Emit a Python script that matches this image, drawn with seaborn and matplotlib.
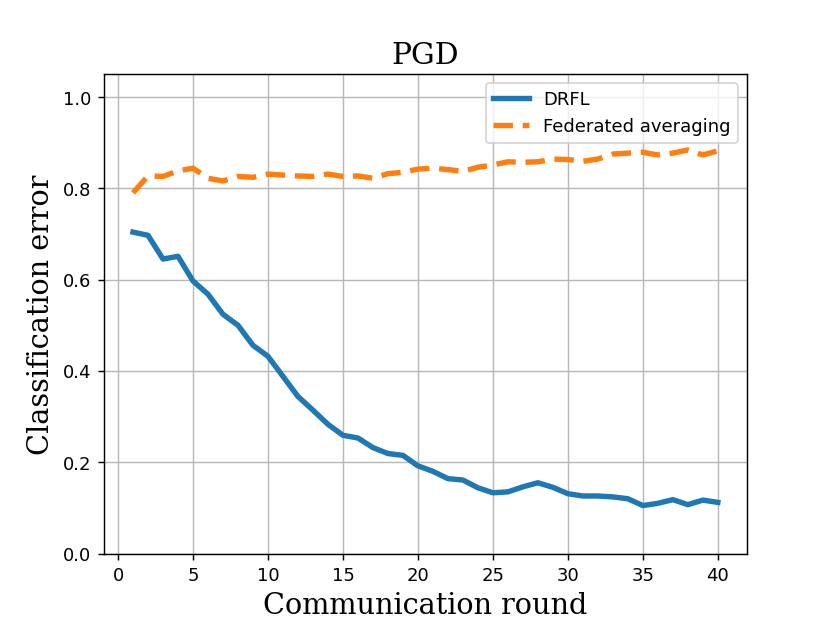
import matplotlib
matplotlib.use("Agg")
import matplotlib.pyplot as plt
import seaborn as sns
import pandas as pd
import numpy as np

rounds = list(range(1, 41))
drfl = [0.704, 0.697, 0.645, 0.651, 0.597, 0.568, 0.524, 0.500, 0.456, 0.432,
        0.388, 0.344, 0.314, 0.283, 0.259, 0.253, 0.232, 0.219, 0.215, 0.192,
        0.180, 0.164, 0.161, 0.144, 0.133, 0.135, 0.146, 0.155, 0.145, 0.131,
        0.126, 0.126, 0.124, 0.120, 0.105, 0.110, 0.118, 0.107, 0.117, 0.112]
fedavg = [0.790, 0.827, 0.826, 0.838, 0.844, 0.822, 0.816, 0.826, 0.824, 0.831,
          0.829, 0.827, 0.826, 0.831, 0.826, 0.827, 0.822, 0.832, 0.835, 0.842,
          0.844, 0.841, 0.837, 0.846, 0.851, 0.858, 0.857, 0.858, 0.864, 0.863,
          0.859, 0.864, 0.875, 0.877, 0.879, 0.873, 0.877, 0.884, 0.873, 0.882]
series_names = ["DRFL", "Federated averaging"]

df = pd.DataFrame({
    "round": rounds * 2,
    "error": drfl + fedavg,
    "method": [series_names[0]] * len(rounds) + [series_names[1]] * len(rounds),
})

fig, ax = plt.subplots(figsize=(6.4, 4.8), dpi=129.7)
sns.lineplot(data=df, x="round", y="error", hue="method", style="method",
             palette=["#1f77b4", "#ff7f0e"], dashes=[(None, None), (3.6, 1.8)],
             linewidth=3, ax=ax)
ax.set_ylim(0, 1.05)
ax.set_yticks([0.0, 0.2, 0.4, 0.6, 0.8, 1.0])
ax.set_xticks([0, 5, 10, 15, 20, 25, 30, 35, 40])
ax.grid(True, color="#b8b8b8", linewidth=0.8)
ax.set_axisbelow(True)
ax.set_title("PGD", family="DejaVu Serif", fontsize=16.5)
ax.set_xlabel("Communication round", family="DejaVu Serif", fontsize=16)
ax.set_ylabel("Classification error", family="DejaVu Serif", fontsize=16)
leg = ax.legend(loc="upper right", fontsize=10)
leg.set_title(None)
fig.savefig("out.png", dpi=129.7)
